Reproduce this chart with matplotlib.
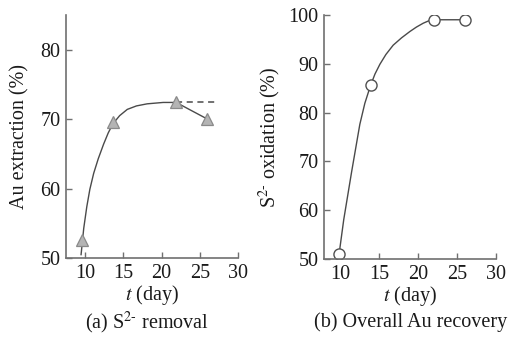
import matplotlib
matplotlib.use("Agg")
import matplotlib.pyplot as plt

plt.rcParams['font.family'] = ['Liberation Serif', 'DejaVu Serif']
plt.rcParams['mathtext.fontset'] = 'stix'

# (a) Au extraction, measured points
t_a = [9.57, 13.62, 21.9, 26.0]
au_a = [52.6, 69.6, 72.4, 70.0]
# fitted curve
curve_t_a = [9.45, 9.8, 10.2, 10.6, 11.1, 11.7, 12.4, 13.0, 13.6, 14.5, 15.5, 16.7, 18.1, 20.2, 21.9]
curve_y_a = [50.5, 54.3, 57.4, 59.9, 62.2, 64.3, 66.4, 68.0, 69.3, 70.5, 71.4, 71.9, 72.2, 72.4, 72.4]
dash_t = [21.9, 27.0]
dash_y = [72.4, 72.4]

# (b) S2- oxidation, measured points
t_b = [9.9, 13.94, 22.05, 26.0]
ox_b = [51.0, 85.6, 99.0, 99.0]
curve_t_b = [9.9, 10.5, 11.5, 12.56, 13.2, 13.94, 14.5, 15.13, 15.9, 16.83, 17.9, 18.97, 19.8, 20.68, 21.4, 22.05, 26.0]
curve_y_b = [51.0, 58.1, 67.8, 77.6, 81.9, 85.6, 87.9, 89.9, 91.9, 93.8, 95.3, 96.6, 97.5, 98.3, 98.8, 99.0, 99.0]

xticks = [10, 15, 20, 25, 30]

fig = plt.figure(figsize=(5.13, 3.46), dpi=100)
ax1 = fig.add_axes([0.129, 0.254, 0.335, 0.703])
ax2 = fig.add_axes([0.632, 0.251, 0.335, 0.706])

line_c = '#4a4a4a'
spine_c = '#707070'
txt_c = '#1a1a1a'

ax1.plot(curve_t_a, curve_y_a, color=line_c, lw=1.0)
ax1.plot(dash_t, dash_y, color=line_c, lw=1.1, ls=(0, (4, 3)))
ax1.plot(t_a[2:], au_a[2:], color=line_c, lw=1.0)
ax1.plot(t_a, au_a, ls='none', marker='^', ms=8, mfc='#b4b4b4', mec='#8a8a8a', mew=0.9)
ax1.set_xlim(7.5, 30)
ax1.set_ylim(50, 85)
ax1.set_yticks([50, 60, 70, 80])
ax1.set_ylabel('Au extraction (%)', fontsize=14.5, color=txt_c, labelpad=8)

ax2.plot(curve_t_b, curve_y_b, color=line_c, lw=1.0)
ax2.plot(t_b, ox_b, ls='none', marker='o', ms=8, mfc='white', mec='#505050', mew=1.0)
ax2.set_xlim(8, 30)
ax2.set_ylim(50, 100)
ax2.set_yticks([50, 60, 70, 80, 90, 100])
ax2.set_ylabel(r'S$^{2\text{-}}$ oxidation (%)', fontsize=14.5, color=txt_c, labelpad=4)

for ax in (ax1, ax2):
    ax.set_xticks(xticks)
    ax.spines['top'].set_visible(False)
    ax.spines['right'].set_visible(False)
    for s in ('left', 'bottom'):
        ax.spines[s].set_color(spine_c)
        ax.spines[s].set_linewidth(1.2)
    ax.tick_params(direction='in', length=4, width=1.0, color=spine_c,
                   labelsize=14.5, labelcolor=txt_c, pad=4)
    ax.set_xlabel('$t$ (day)', fontsize=14.5, color=txt_c, labelpad=0)
    ax.patch.set_alpha(0)

fig.text(0.287, 0.068, r'(a) S$^{2\text{-}}$ removal', fontsize=14.5, color=txt_c, ha='center', va='center')
fig.text(0.80, 0.068, '(b) Overall Au recovery', fontsize=14.5, color=txt_c, ha='center', va='center')

fig.savefig('out.png', dpi=100)
